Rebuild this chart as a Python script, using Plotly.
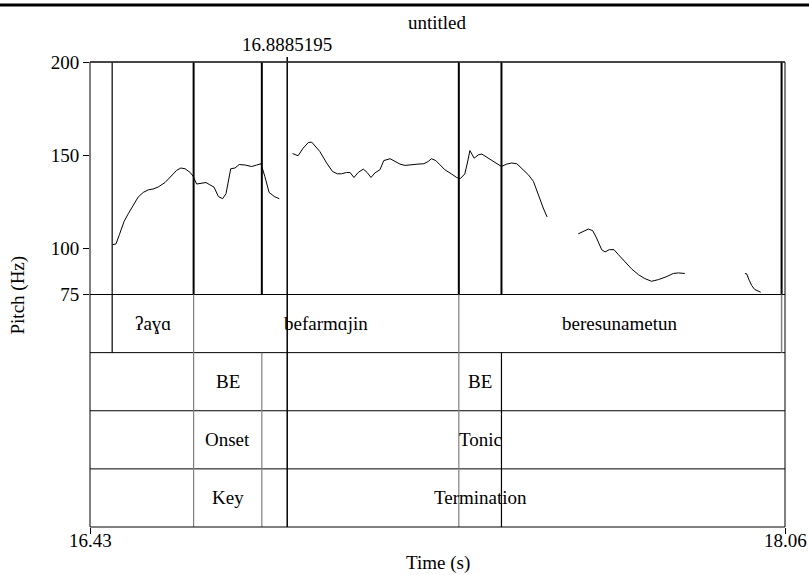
import plotly.graph_objects as go

# ---- data ----
x_range = [16.426, 18.056]
x_tick_text = ["16.43", "18.06"]
y_ticks = [75, 100, 150, 200]
cursor_time = 16.8885195

seg1_t = [16.479, 16.487, 16.495, 16.506, 16.516, 16.528, 16.539, 16.551, 16.563, 16.574,
          16.586, 16.602, 16.618, 16.629, 16.639, 16.649, 16.661, 16.668, 16.676, 16.688,
          16.698, 16.707, 16.717, 16.727, 16.737, 16.745, 16.756, 16.766, 16.776, 16.790,
          16.805, 16.817, 16.827, 16.836, 16.846, 16.858, 16.870]
seg1_hz = [101.8, 102.2, 107.2, 114.3, 118.5, 123.3, 127.4, 129.9, 131.3, 131.7,
           132.8, 135.2, 138.8, 141.7, 143.0, 142.6, 140.6, 138.5, 134.4, 134.9,
           135.2, 134.0, 132.7, 127.7, 126.5, 129.2, 142.6, 143.0, 144.9, 144.6,
           143.8, 144.6, 145.3, 138.5, 129.9, 127.7, 126.5]

seg2_t = [16.901, 16.914, 16.926, 16.938, 16.946, 16.954, 16.965, 16.981, 16.995,
          17.006, 17.016, 17.028, 17.036, 17.045, 17.055, 17.067, 17.076, 17.085, 17.094,
          17.106, 17.115, 17.130, 17.141, 17.153, 17.165, 17.180, 17.195, 17.209, 17.219,
          17.227, 17.237, 17.247, 17.258, 17.274, 17.286, 17.294, 17.305, 17.311, 17.317,
          17.327, 17.337, 17.345, 17.356, 17.368, 17.381, 17.391, 17.403, 17.415, 17.427,
          17.438, 17.454, 17.466, 17.477, 17.489, 17.498]
seg2_hz = [150.8, 149.6, 153.7, 156.7, 156.9, 154.9, 151.9, 145.7, 141.1,
           139.9, 139.9, 140.6, 140.6, 137.9, 140.6, 142.4, 140.6, 137.9, 140.3,
           142.1, 147.0, 148.0, 146.5, 145.1, 144.4, 144.9, 145.1, 145.3, 146.5,
           148.0, 147.0, 144.7, 142.1, 139.8, 137.9, 137.2, 139.8, 145.7, 152.4,
           148.3, 150.1, 150.5, 148.9, 147.4, 145.7, 143.8, 145.1, 145.7, 145.3,
           143.0, 139.4, 135.8, 128.6, 121.5, 116.7]

seg3_t = [17.571, 17.581, 17.595, 17.605, 17.614, 17.626, 17.634, 17.644, 17.655, 17.665,
          17.681, 17.696, 17.712, 17.727, 17.743, 17.759, 17.777, 17.794, 17.806, 17.821]
seg3_hz = [107.6, 108.6, 110.2, 109.3, 105.4, 99.1, 97.9, 99.1, 99.1, 96.5,
           92.3, 88.8, 85.7, 83.6, 82.1, 83.0, 84.5, 86.3, 86.6, 86.3]

seg4_t = [17.962, 17.966, 17.972, 17.978, 17.985, 17.993, 17.999]
seg4_hz = [86.3, 86.1, 82.7, 79.8, 77.7, 76.6, 76.2]

word_bounds = [16.478, 16.669, 17.291, 18.048]
word_labels = ["ʔaɣɑ", "befarmɑjin", "beresunametun"]

phrase_bounds = [16.669, 16.829, 17.291, 17.391]
tier2_labels = ["BE", "BE"]
tier3_labels = ["Onset", "Tonic"]
tier4_labels = ["Key", "Termination"]

# ---- figure ----
FONT = "Times New Roman, Liberation Serif, DejaVu Serif, serif"
fig = go.Figure()
for t, hz in [(seg1_t, seg1_hz), (seg2_t, seg2_hz), (seg3_t, seg3_hz), (seg4_t, seg4_hz)]:
    fig.add_trace(go.Scatter(x=t, y=hz, mode="lines",
                             line=dict(color="black", width=1), showlegend=False,
                             hoverinfo="skip"))

shapes = []
tier_tops = [0.5, 0.375, 0.25, 0.125]
for yy in tier_tops:
    shapes.append(dict(type="line", xref="paper", yref="paper", x0=0, x1=1, y0=yy, y1=yy,
                       line=dict(color="black", width=1)))

# boundary lines through the pitch area
for b in sorted(set(word_bounds + phrase_bounds)):
    w = 1.2 if b == word_bounds[0] else 2
    shapes.append(dict(type="line", xref="x", yref="paper", x0=b, x1=b, y0=0.5, y1=1,
                       line=dict(color="black", width=w)))

# tier 1 (words) boundaries
for b in word_bounds:
    col = "black" if b == word_bounds[0] else "#808080"
    shapes.append(dict(type="line", xref="x", yref="paper", x0=b, x1=b, y0=0.375, y1=0.5,
                       line=dict(color=col, width=1.5 if b == word_bounds[-1] else 1.2)))

# tiers 2-4 boundaries
for b in phrase_bounds:
    col = "black" if b == phrase_bounds[-1] else "#808080"
    shapes.append(dict(type="line", xref="x", yref="paper", x0=b, x1=b, y0=0, y1=0.375,
                       line=dict(color=col, width=1.2)))

# cursor
shapes.append(dict(type="line", xref="x", yref="paper", x0=cursor_time, x1=cursor_time,
                   y0=0, y1=1.0108, line=dict(color="black", width=1.5)))

# frame
shapes.append(dict(type="rect", xref="paper", yref="paper", x0=0, x1=1, y0=0, y1=1,
                   line=dict(color="black", width=1)))
shapes.append(dict(type="line", xref="paper", yref="paper", x0=0, x1=1, y0=1, y1=1,
                   line=dict(color="#333333", width=1.5)))
# page top rule
shapes.append(dict(type="line", xref="paper", yref="paper", x0=-0.14, x1=1.05,
                   y0=1.1226, y1=1.1226, line=dict(color="black", width=3)))

annotations = []
tf = dict(family=FONT, size=19, color="black")


def mid(a, b):
    return (a + b) / 2


def ann(x, y, text, xref="x", yref="paper", **kw):
    d = dict(x=x, y=y, xref=xref, yref=yref, text=text, showarrow=False, font=tf,
             xanchor="center", yanchor="middle")
    d.update(kw)
    annotations.append(d)


for i, lab in enumerate(word_labels):
    ann(mid(word_bounds[i], word_bounds[i + 1]), 0.4375, lab)
for labels, yc in [(tier2_labels, 0.3125), (tier3_labels, 0.1875), (tier4_labels, 0.0625)]:
    ann(mid(phrase_bounds[0], phrase_bounds[1]), yc, labels[0])
    ann(mid(phrase_bounds[2], phrase_bounds[3]), yc, labels[1])

ann(cursor_time, 1.0387, f"{cursor_time:.7f}")
ann(0.5, 1.0839, "untitled", xref="paper")
ann(-0.1036, 0.5, "Pitch (Hz)", xref="paper", textangle=-90)
ann(0.5, -0.0774, "Time (s)", xref="paper")
for xv, lab in zip(x_range, x_tick_text):
    ann(xv, -0.028, lab)

fig.update_layout(
    width=809, height=575,
    margin=dict(l=90, r=24, t=62, b=48),
    paper_bgcolor="white", plot_bgcolor="white",
    font=tf,
    shapes=shapes, annotations=annotations,
    xaxis=dict(range=x_range, tickvals=x_range, showticklabels=False,
               showgrid=False, zeroline=False, showline=False, automargin=False,
               ticks="outside", ticklen=6, tickcolor="black",
               anchor="free", position=0),
    yaxis=dict(range=[75, 200], domain=[0.5, 1], tickvals=y_ticks, automargin=False,
               showgrid=False, zeroline=False, showline=False,
               ticks="outside", ticklen=6, tickcolor="black", tickfont=tf),
)

fig.write_html("out.html", config={"displayModeBar": False},
               post_script="document.body.style.margin='0';document.body.style.overflow='hidden';")
